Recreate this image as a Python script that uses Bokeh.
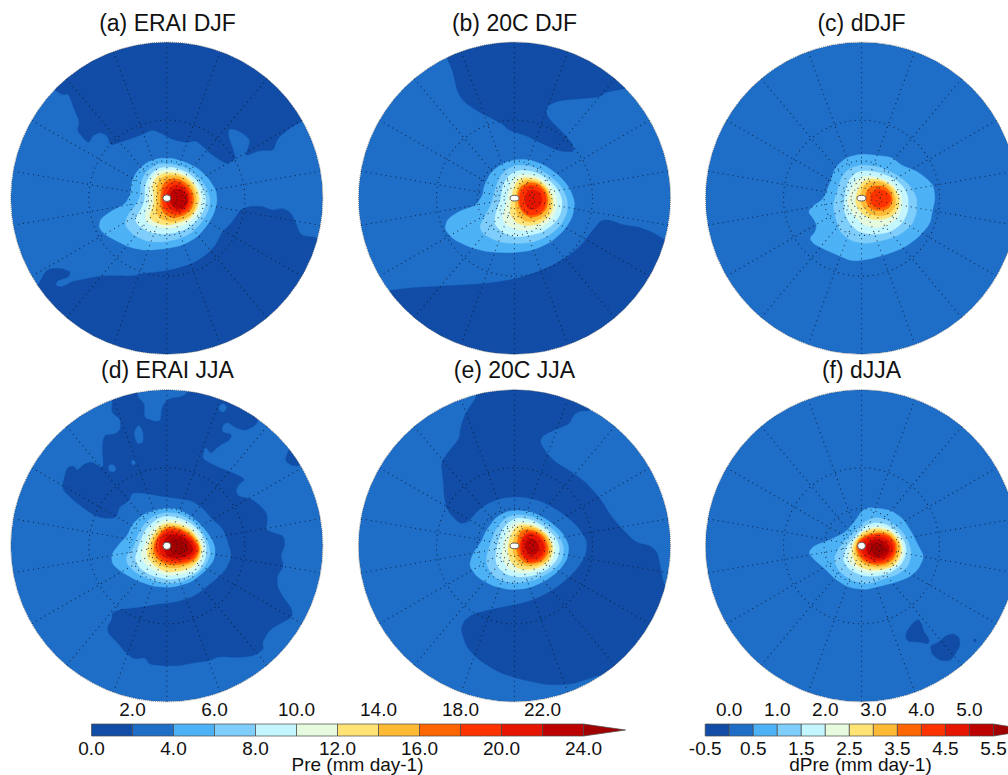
import math
from bokeh.plotting import figure
from bokeh.models import Range1d
from bokeh.core.properties import value
from bokeh.embed import file_html
from bokeh.resources import INLINE

# ---------------- colour scale ----------------
PRE_LEVELS = [0.0, 2.0, 4.0, 6.0, 8.0, 10.0, 12.0, 14.0, 16.0, 18.0, 20.0, 22.0, 24.0]
DPRE_LEVELS = [-0.5, 0.0, 0.5, 1.0, 1.5, 2.0, 2.5, 3.0, 3.5, 4.0, 4.5, 5.0, 5.5]
COLORS = ["#114da6", "#1e6ec8", "#4db1f6", "#7ecdfa", "#c4f6ff", "#e6fade", "#ffe375",
          "#ffba35", "#ff6600", "#ff3300", "#e61500", "#bd0000", "#a00000"]
PRE_TOP = ["2.0", "6.0", "10.0", "14.0", "18.0", "22.0"]
PRE_BOTTOM = ["0.0", "4.0", "8.0", "12.0", "16.0", "20.0", "24.0"]
DPRE_TOP = ["0.0", "1.0", "2.0", "3.0", "4.0", "5.0"]
DPRE_BOTTOM = ["-0.5", "0.5", "1.5", "2.5", "3.5", "4.5", "5.5"]
TITLES = ["(a) ERAI DJF", "(b) 20C DJF", "(c) dDJF", "(d) ERAI JJA", "(e) 20C JJA", "(f) dJJA"]

# ---------------- contours (1/3 px units, panel crop) ----------------
A_DARK = [
 [(150,165),(170,178),(190,175),(200,205),(210,230),(222,260),(215,285),(235,310),(250,323),(262,300),(285,290),(305,300),(315,330),(345,320),(375,310),(410,297),(440,282),(470,295),(500,312),(545,322),(570,315),(590,330),(610,350),(640,372),(665,385),(692,370),(680,335),(668,300),(670,280),(690,282),(715,295),(735,315),(725,345),(720,362),(760,345),(805,345),(815,310),(850,280),(888,258)],
 [(925,605),(885,600),(870,560),(855,530),(830,518),(800,525),(770,512),(735,512),(705,522),(680,560),(650,590),(630,630),(600,660),(560,685),(510,700),(470,708),(410,715),(380,722),(330,720),(280,722),(240,730),(200,738),(170,755),(150,750),(155,735),(190,725),(195,708),(165,698),(130,700),(115,715),(100,745)],
]
A_FILL = [
 [(460,368),(500,368),(540,380),(580,400),(610,430),(632,465),(635,500),(625,535),(605,570),(575,605),(530,630),(480,640),(420,645),(370,635),(330,615),(295,595),(280,575),(285,550),(320,525),(360,505),(375,475),(378,440),(395,405),(425,380)],
 [(455,385),(500,385),(545,398),(580,425),(605,460),(615,495),(607,530),(585,565),(555,595),(515,612),(470,620),(425,618),(385,600),(358,570),(365,540),(390,510),(405,480),(405,440),(425,405)],
 [(465,395),(505,395),(545,410),(575,435),(595,465),(602,495),(595,525),(575,555),(545,580),(510,592),(470,597),(430,590),(398,570),(388,550),(405,525),(418,495),(418,450),(435,415)],
 [(470,403),(510,403),(545,418),(570,440),(585,470),(590,495),(580,530),(560,555),(530,572),(490,580),(450,575),(420,558),(420,530),(432,500),(430,450),(445,415)],
 [(475,412),(510,412),(540,422),(565,445),(578,470),(582,495),(572,525),(552,550),(520,562),(485,570),(450,562),(430,545),(440,520),(446,490),(440,450),(452,425)],
 [(482,420),(515,420),(540,430),(560,450),(572,480),(572,510),(558,538),(530,553),(495,560),(462,548),(450,525),(455,490),(453,455),(462,432)],
 [(490,430),(520,430),(545,445),(562,470),(566,495),(558,522),(535,540),(505,548),(478,538),(465,515),(465,485),(468,455),(478,438)],
 [(495,438),(520,438),(545,455),(558,480),(558,505),(545,527),(520,538),(495,535),(475,520),(470,490),(475,460)],
 [(505,447),(525,450),(545,465),(552,490),(545,515),(525,530),(505,528),(488,515),(480,495),(483,470)],
 [(510,460),(530,462),(545,480),(545,505),(530,520),(512,520),(497,505),(492,485),(497,468)],
]
B_DARK = [
 [(285,70),(300,105),(315,170),(335,200),(380,230),(420,250),(450,265),(470,285),(520,300),(570,325),(620,347),(665,350),(660,325),(630,290),(600,262),(580,235),(585,210),(620,195),(680,190),(740,185),(760,170),(815,160)],
 [(935,612),(900,590),(860,575),(810,568),(770,553),(745,555),(720,585),(690,625),(650,660),(600,690),(540,715),(490,730),(420,742),(340,748),(260,752),(170,757),(112,765)],
]
B_FILL = [
 [(490,372),(530,372),(575,388),(620,420),(650,455),(668,500),(660,545),(635,585),(595,620),(540,645),(480,652),(410,650),(350,635),(300,610),(276,580),(285,550),(325,525),(370,510),(390,480),(395,450),(415,410),(450,383)],
 [(495,388),(540,392),(585,415),(625,450),(645,490),(645,530),(625,570),(590,600),(545,620),(490,625),(440,620),(395,598),(380,575),(395,545),(415,510),(425,470),(440,425),(465,400)],
 [(500,403),(545,408),(590,432),(618,465),(630,495),(625,535),(605,565),(570,590),(530,600),(490,605),(450,592),(425,565),(430,530),(445,490),(450,450),(470,418)],
 [(505,415),(550,420),(590,445),(612,480),(615,515),(600,550),(570,575),(530,585),(490,583),(455,565),(450,540),(463,500),(470,455),(482,430)],
 [(515,425),(555,430),(585,455),(600,485),(603,515),(590,545),(560,565),(525,572),(490,562),(472,535),(475,500),(482,460),(495,435)],
 [(520,432),(555,438),(582,460),(595,490),(595,515),(580,540),(555,555),(525,560),(497,545),(487,515),(490,480),(497,450)],
 [(530,440),(560,445),(582,470),(587,495),(582,520),(563,540),(535,547),(512,535),(497,510),(495,475),(505,452)],
 [(535,448),(560,455),(578,475),(582,497),(575,520),(555,537),(530,540),(510,525),(500,500),(503,470),(515,455)],
 [(540,462),(560,468),(570,490),(565,510),(550,522),(530,522),(518,505),(518,480),(525,468)],
]
C_DARK = []
C_FILL = [
 [(490,355),(540,360),(580,365),(610,390),(650,405),(680,425),(705,450),(710,490),(702,525),(695,565),(660,605),(620,635),(570,655),(510,672),(460,677),(420,660),(385,645),(345,625),(333,608),(350,590),(355,570),(345,550),(328,528),(345,510),(375,490),(395,440),(410,395),(445,365)],
 [(490,388),(540,393),(590,415),(630,445),(655,485),(655,530),(640,570),(600,600),(555,615),(500,625),(455,615),(425,590),(412,550),(403,510),(415,470),(430,420),(455,397)],
 [(495,405),(540,410),(590,430),(620,460),(630,490),(628,530),(610,565),(575,590),(525,598),(480,590),(450,560),(435,520),(440,470),(450,435),(470,413)],
 [(500,420),(545,425),(585,445),(608,475),(612,510),(600,545),(570,570),(525,578),(490,565),(462,535),(445,505),(455,465),(470,435)],
 [(510,430),(550,432),(585,455),(602,485),(602,515),(585,540),(555,552),(520,552),(490,535),(470,505),(475,470),(490,440)],
 [(520,437),(555,440),(580,460),(592,490),(590,515),(570,537),(540,542),(512,535),(490,510),(485,480),(495,450)],
 [(530,450),(560,453),(578,472),(583,495),(575,515),(555,525),(530,525),(510,515),(500,490),(505,465),(515,455)],
 [(535,460),(560,465),(575,480),(577,495),(565,512),(545,517),(525,512),(515,495),(517,475)],
]
D_DARK_CLOSED = [
 [(320,58),(320,20),(395,10),(395,42),(418,65),(415,105),(440,115),(465,118),(470,70),(490,48),(535,42),(560,10),(640,30),(760,90),(755,125),(720,145),(690,135),(665,118),(650,130),(650,150),(680,155),(670,175),(640,190),(615,215),(600,190),(590,225),(600,235),(640,255),(680,270),(720,290),(700,305),(690,325),(700,342),(740,350),(770,375),(785,395),(785,425),(780,440),(800,450),(835,460),(838,490),(825,520),(835,550),(815,580),(815,610),(830,640),(860,680),(860,705),(820,725),(790,745),(770,780),(775,800),(745,820),(700,825),(640,822),(610,835),(570,840),(520,850),(470,850),(430,845),(420,825),(385,830),(360,810),(340,785),(310,755),(305,735),(320,710),(320,690),(350,680),(400,675),(460,665),(510,660),(570,640),(620,600),(660,565),(680,520),(665,470),(650,435),(620,410),(590,375),(560,355),(520,348),(470,342),(420,332),(380,330),(370,355),(340,375),(335,400),(320,408),(280,405),(245,385),(200,350),(170,320),(175,290),(185,255),(205,250),(215,265),(235,245),(260,238),(285,255),(295,250),(290,200),(295,158),(330,155),(345,140),(345,110),(318,90)],
 [(850,200),(838,235),(860,250),(885,250),(920,240),(880,180)],
]
D_HOLES = [
 [(385,150),(400,125),(413,150),(413,180),(395,185)],
 [(308,250),(320,245),(332,255),(328,268),(312,268)],
 [(377,235),(388,233),(390,245),(380,248)],
 [(640,70),(655,62),(665,75),(655,90),(642,85)],
]
D_FILL = [
 [(470,378),(510,378),(550,395),(590,430),(620,470),(630,500),(625,535),(595,570),(555,600),(500,615),(445,612),(395,595),(350,570),(320,545),(318,515),(345,480),(365,460),(380,425),(410,398),(440,385)],
 [(475,390),(515,392),(555,410),(590,445),(610,485),(615,515),(600,550),(570,580),(525,600),(480,603),(430,590),(390,570),(365,545),(362,520),(385,495),(395,460),(415,425),(440,403)],
 [(480,400),(520,405),(560,425),(590,455),(603,490),(600,530),(580,565),(540,585),(490,592),(440,580),(405,560),(388,530),(395,505),(405,475),(420,440),(450,412)],
 [(485,410),(525,415),(560,435),(585,465),(595,495),(590,530),(570,560),(530,575),(485,580),(445,565),(415,540),(405,515),(418,485),(430,450),(455,422)],
 [(487,420),(525,425),(560,445),(582,475),(590,500),(582,530),(560,555),(525,565),(485,570),(450,553),(425,525),(425,500),(437,465),(460,432)],
 [(487,428),(525,432),(560,452),(580,480),(585,505),(575,535),(550,548),(515,557),(480,555),(450,540),(433,510),(440,475),(462,440)],
 [(490,432),(525,438),(558,458),(578,485),(582,505),(570,530),(545,543),(510,548),(480,545),(455,530),(443,505),(448,475),(468,445)],
 [(490,438),(525,443),(555,462),(575,487),(577,505),(565,527),(540,538),(505,542),(478,537),(458,520),(448,497),(455,470),(472,448)],
 [(490,445),(525,450),(553,468),(570,490),(570,510),(555,525),(530,533),(500,533),(475,525),(462,505),(460,480),(472,458)],
 [(492,455),(525,458),(550,475),(562,495),(560,510),(540,523),(510,528),(485,520),(475,500),(475,475)],
 [(500,470),(525,470),(545,485),(548,505),(530,515),(505,515),(488,500),(487,480)],
]
E_DARK_CLOSED = [
 [(375,40),(340,90),(325,130),(320,170),(290,205),(265,240),(272,290),(275,345),(285,385),(320,423),(345,420),(375,385),(410,360),(455,345),(510,343),(565,355),(620,385),(670,425),(705,475),(700,520),(670,565),(620,610),(570,640),(520,660),(460,672),(410,682),(360,695),(335,715),(325,740),(340,790),(375,830),(440,870),(500,890),(590,908),(660,905),(720,885),(775,868),
  (810,860),(935,715),(960,620),
  (935,610),(925,560),(915,510),(895,490),(850,480),(810,440),(775,400),(745,350),(700,300),(660,270),(610,240),(585,215),(562,180),(570,160),(610,140),(650,125),(665,95),(685,85),(715,85),
  (700,60),(560,10),(420,10),(360,15)],
]
E_FILL = [
 [(490,383),(540,388),(590,415),(630,450),(650,490),(645,530),(615,570),(570,600),(525,618),(470,622),(420,610),(375,585),(350,550),(360,515),(385,480),(400,445),(430,405),(460,388)],
 [(492,395),(540,402),(585,425),(620,460),(635,495),(628,535),(600,565),(555,590),(510,600),(465,600),(425,585),(403,550),(402,520),(415,480),(430,440),(460,405)],
 [(495,405),(540,412),(580,435),(610,465),(622,495),(615,530),(590,558),(550,578),(505,585),(465,578),(435,555),(428,525),(435,485),(450,440),(470,418)],
 [(500,415),(545,422),(580,445),(603,475),(610,500),(600,535),(575,558),(535,570),(495,572),(465,558),(447,525),(450,490),(465,445),(480,425)],
 [(505,425),(545,430),(580,452),(597,480),(602,505),(590,535),(565,553),(530,562),(495,558),(473,535),(465,505),(470,470),(485,437)],
 [(515,432),(550,437),(580,458),(595,485),(595,510),(582,535),(555,548),(525,552),(497,542),(482,515),(480,480),(493,447)],
 [(520,440),(550,445),(575,462),(587,490),(587,512),(570,535),(545,543),(520,543),(500,525),(490,497),(497,465),(505,447)],
 [(525,447),(555,452),(575,475),(582,495),(575,520),(558,535),(530,540),(510,525),(500,497),(505,470)],
 [(530,452),(555,460),(572,478),(577,497),(567,520),(548,530),(525,530),(510,515),(505,490),(512,465)],
 [(530,468),(550,472),(560,490),(557,508),(545,517),(528,515),(518,497),(520,478)],
]
F_DARK_CLOSED = [
 [(660,710),(670,725),(675,745),(692,770),(690,785),(660,778),(630,778),(620,765),(625,745),(645,720)],
 [(765,753),(782,765),(785,790),(770,815),(755,835),(725,835),(700,815),(695,790),(720,780),(740,760)],
 [(826,770),(833,770),(833,777),(826,777)],
]
F_FILL = [
 [(510,375),(545,378),(580,385),(615,410),(640,450),(660,490),(677,522),(660,560),(630,585),(590,600),(550,610),(500,622),(450,615),(410,590),(375,555),(345,530),(330,510),(345,490),(395,472),(440,450),(470,415),(490,385)],
 [(525,405),(560,408),(600,435),(625,465),(640,510),(630,550),(600,575),(555,590),(505,605),(460,595),(420,565),(405,530),(425,490),(465,450),(495,420)],
 [(530,420),(565,425),(600,450),(620,480),(625,510),(610,545),(575,572),(530,582),(490,580),(450,560),(432,530),(445,490),(475,455),(500,430)],
 [(535,430),(570,437),(600,460),(615,490),(615,520),(595,550),(560,565),(520,572),(480,565),(450,540),(450,505),(470,470),(500,440)],
 [(540,437),(575,445),(600,470),(610,495),(605,525),(585,552),(550,562),(510,562),(475,550),(460,515),(465,480),(490,450),(515,440)],
 [(540,443),(575,452),(598,477),(605,497),(598,525),(575,548),(545,555),(510,552),(480,535),(468,505),(475,475),(500,452)],
 [(545,450),(572,457),(593,480),(595,505),(585,530),(560,545),(530,548),(500,540),(480,520),(472,495),(482,470),(510,455)],
 [(545,455),(572,462),(588,482),(590,505),(578,527),(555,540),(525,542),(498,532),(482,510),(478,490),(490,470),(515,458)],
 [(545,462),(568,470),(583,487),(583,508),(570,525),(548,535),(522,535),(498,522),(487,500),(490,478),(515,465)],
 [(540,470),(562,478),(573,492),(572,510),(560,523),(538,528),(518,522),(503,505),(505,485),(520,473)],
 [(535,482),(555,487),(563,500),(557,512),(537,518),(522,510),(515,497),(522,485)],
]

# ---------------- layout (all in 1/3 px) ----------------
R = 468
PANELS = [
 dict(org=(15, 105),   c=(484, 488), chains=A_DARK, closed=[], holes=[], fill=A_FILL, pole=(24, 20)),
 dict(org=(1056, 105), c=(486, 488), chains=B_DARK, closed=[], holes=[], fill=B_FILL, pole=(27, 17)),
 dict(org=(2094, 105), c=(489, 488), chains=C_DARK, closed=[], holes=[], fill=C_FILL, pole=(27, 17)),
 dict(org=(15, 1146),  c=(484, 490), chains=[], closed=D_DARK_CLOSED, holes=D_HOLES, fill=D_FILL, pole=(24, 22)),
 dict(org=(1056, 1146), c=(486, 490), chains=[], closed=E_DARK_CLOSED, holes=[], fill=E_FILL, pole=(27, 17)),
 dict(org=(2094, 1146), c=(489, 490), chains=[], closed=F_DARK_CLOSED, holes=[], fill=F_FILL, pole=(24, 22)),
]
FONT = value("Liberation Sans")


def cut(pts, rounds=2, closed=True):
    w = 0.19
    for _ in range(rounds):
        out = []
        n = len(pts)
        for i in range(n if closed else n - 1):
            a, b = pts[i], pts[(i + 1) % n]
            out.append(((1 - w) * a[0] + w * b[0], (1 - w) * a[1] + w * b[1]))
            out.append((w * a[0] + (1 - w) * b[0], w * a[1] + (1 - w) * b[1]))
        if not closed:
            out = [pts[0]] + out + [pts[-1]]
        pts = out
    return pts


def chain_poly(pts, c):
    pts = cut(pts, closed=False)
    end = math.atan2(pts[-1][1] - c[1], pts[-1][0] - c[0])
    start = math.atan2(pts[0][1] - c[1], pts[0][0] - c[0])
    while start > end:
        start -= 2 * math.pi
    steps = 48
    arc = []
    for i in range(steps + 1):
        t = end + (start - end) * i / steps
        arc.append((c[0] + 505 * math.cos(t), c[1] + 505 * math.sin(t)))
    return pts + arc


p = figure(width=1008, height=775, output_backend="svg", toolbar_location=None,
           x_range=Range1d(0, 3024), y_range=Range1d(2325, 0), min_border=0,
           outline_line_color=None, background_fill_color="white", border_fill_color="white",
           margin=(0, 0, 0, 0))
p.axis.visible = False
p.grid.visible = False


def patch(pts, org, color):
    p.patch([org[0] + x for x, _ in pts], [org[1] + y for _, y in pts],
            fill_color=color, line_color=color, line_width=0.3)


for k, pn in enumerate(PANELS):
    ox, oy = pn["org"]
    cx, cy = pn["c"]
    px, py = ox + cx, oy + cy
    p.circle([px], [py], radius=R, fill_color=COLORS[1], line_color=None)
    for ch in pn["chains"]:
        patch(chain_poly(ch, pn["c"]), pn["org"], COLORS[0])
    for poly in pn["closed"]:
        patch(cut(poly), pn["org"], COLORS[0])
    for poly in pn["holes"]:
        patch(cut(poly), pn["org"], COLORS[1])
    for lev, poly in enumerate(pn["fill"]):
        patch(cut(poly), pn["org"], COLORS[lev + 2])
    # map grid
    for deg in range(0, 360, 20):
        t = math.radians(deg)
        p.line([px + 30 * math.sin(t), px + R * math.sin(t)],
               [py - 30 * math.cos(t), py - R * math.cos(t)],
               line_color="#0a1830", line_width=1.1, line_dash="1 4", line_alpha=0.8)
    for rr in (234, 112, 56):
        p.circle([px], [py], radius=rr, fill_color=None, line_color="#0a1830", line_width=1.1,
                 line_dash="1 4", line_alpha=0.8)
    # clip of the disc and its rim
    p.annulus([px], [py], inner_radius=R, outer_radius=515, fill_color="white", line_color=None)
    p.circle([px], [py], radius=R, fill_color=None, line_color="#444444", line_width=0.8,
             line_dash="1 1", line_alpha=0.8)
    p.ellipse([px], [py], width=pn["pole"][0], height=pn["pole"][1], fill_color="white",
              line_color="#555555", line_width=1)


TITLE_POS = [(167, 22), (514, 22), (861, 22), (167, 369), (514, 369), (861, 369)]
for t, (x, y) in zip(TITLES, TITLE_POS):
    p.text([x * 3], [y * 3], text=[t], text_font=FONT, text_font_size="23px",
           text_align="center", text_baseline="middle", text_color="#111111")


def colorbar(levels, tops, bottoms, label, x0, x1, tip, label_x):
    vmin, vmax = levels[0], levels[-1]
    sx = lambda v: 3 * (x0 + (v - vmin) / (vmax - vmin) * (x1 - x0))
    ytop, ybot = 3 * 723.5, 3 * 735.5
    p.quad(left=[sx(a) for a in levels[:-1]], right=[sx(a) for a in levels[1:]],
           top=[ytop] * 12, bottom=[ybot] * 12, fill_color=COLORS[:12],
           line_color="#4a4a4a", line_width=0.9, line_alpha=0.8)
    p.patch([3 * x1, 3 * tip, 3 * x1], [ytop, (ytop + ybot) / 2, ybot], fill_color=COLORS[12],
            line_color="#4a4a4a", line_width=0.7)
    mids = levels[1::2]
    p.text([sx(v) for v in mids], [3 * 708.5] * len(mids), text=tops, text_font=FONT,
           text_font_size="19px", text_align="center", text_baseline="middle", text_color="#111111")
    bots = levels[0::2]
    p.text([sx(v) for v in bots], [3 * 748] * len(bots), text=bottoms, text_font=FONT,
           text_font_size="19px", text_align="center", text_baseline="middle", text_color="#111111")
    p.text([3 * label_x], [3 * 764], text=[label], text_font=FONT, text_font_size="19px",
           text_align="center", text_baseline="middle", text_color="#111111")


colorbar(PRE_LEVELS, PRE_TOP, PRE_BOTTOM, "Pre (mm day-1)", 91, 583, 625, 357)
colorbar(DPRE_LEVELS, DPRE_TOP, DPRE_BOTTOM, "dPre (mm day-1)", 704.7, 993, 1030, 860)

open("out.html", "w").write(file_html(p, INLINE))
